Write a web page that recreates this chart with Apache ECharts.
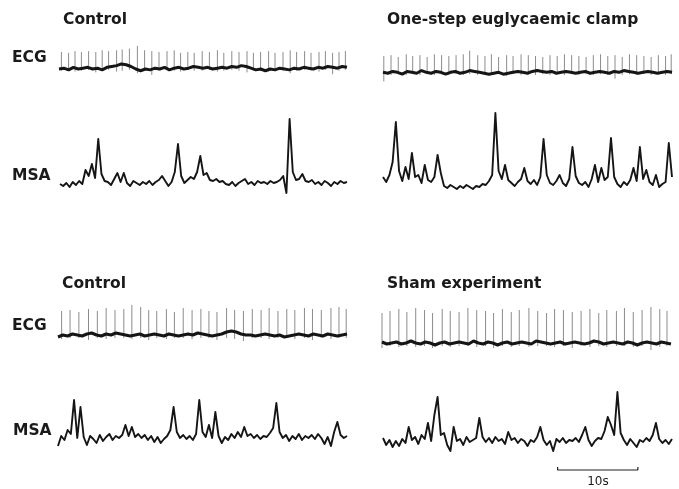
<!DOCTYPE html>
<html><head><meta charset="utf-8">
<script src="https://cdn.jsdelivr.net/npm/echarts@6/dist/echarts.min.js"></script>
<style>html,body{margin:0;padding:0;background:#fff}#c{width:679px;height:489px}</style>
</head><body><div id="c"></div>
<script>
// ---------- text ----------
const panelTitles = ['Control', 'One-step euglycaemic clamp', 'Control', 'Sham experiment'];
const traceLabels = ['ECG', 'MSA'];
const scaleBarLabel = '10s';
const scaleBarStart = 21.75;   // s, within the bottom-right record
const scaleBarSeconds = 10;
const recordSeconds = 36;

// ---------- MSA (sampled every 0.4 s, amplitude above baseline) ----------
const msaStep = 0.4;
const msaControl1 = [0,-2,1,-3,2,-1,3,0,14,8,20,6,45,10,3,2,-1,5,11,2,11,1,-2,3,1,-1,2,0,3,-1,2,4,8,3,-2,2,12,40,8,1,4,7,5,12,28,9,11,4,3,5,2,3,0,-1,2,-2,1,3,5,0,2,-1,3,1,2,0,3,1,2,4,8,-9,65,12,4,5,10,3,2,4,0,2,-1,3,1,-2,2,0,3,1,2];
const msaClamp = [8,3,10,23,63,14,4,18,6,32,8,10,2,20,5,3,8,30,12,-1,-3,0,-2,-4,-1,-3,0,-2,-4,-1,-2,1,0,4,10,72,14,6,20,5,2,-1,3,6,17,4,1,5,0,8,46,10,2,0,4,10,2,-1,6,38,9,2,0,3,-2,6,20,3,17,5,8,47,8,1,-2,3,0,5,17,4,38,6,15,3,0,10,-2,1,3,42,8];
const msaControl2 = [-6,4,0,10,6,40,2,33,3,-5,4,1,-3,5,-1,3,6,0,4,2,5,15,4,13,3,6,2,5,0,4,-2,3,-3,1,4,10,33,8,2,5,1,4,0,6,40,8,3,15,2,28,4,-3,3,0,6,2,8,3,13,4,6,2,5,1,4,3,7,12,37,8,2,5,-1,4,1,6,0,4,2,5,1,6,2,-4,3,-6,8,18,5,2,4];
const msaSham = [5,-2,3,-4,2,-3,4,0,16,3,6,-1,8,4,20,2,28,46,8,10,-2,-8,16,2,4,-2,6,1,3,5,25,6,1,5,0,6,2,4,-1,11,3,5,0,4,2,-3,3,1,6,16,3,-2,2,-8,4,1,5,0,3,2,5,1,8,16,3,-3,2,5,4,12,26,18,8,51,10,3,-2,4,0,-4,3,1,5,2,8,20,4,0,3,-1,4];

// ---------- ECG: beat times (s), R height, S depth, baseline every 0.6 s ----------
const ecgBaseStep = 0.6;
const ecgBeatsControl1 = [0.3,1.2,2.0,2.8,3.7,4.6,5.4,6.2,7.2,7.9,8.8,9.8,10.7,11.6,12.5,13.5,14.4,15.2,16.1,16.9,17.9,18.8,19.8,20.6,21.6,22.5,23.5,24.3,25.2,26.2,27.0,28.0,28.9,29.7,30.7,31.5,32.5,33.3,34.2,35.0,35.8];
const ecgRControl1 = [19,18,20,19,20,19,21,20,21,22,23,26,21,20,19,20,21,18,19,18,20,19,21,18,20,19,20,18,19,20,18,19,21,19,20,18,19,20,18,19,20];
const ecgSControl1 = [3,2,4,3,2,5,3,2,4,3,2,6,3,8,3,2,3,4,2,3,3,2,4,3,2,3,5,2,3,4,2,3,6,3,2,3,4,2,7,3,2];
const ecgBaseControl1 = [-1,0,-2,1,-1,0,1,-1,0,-2,1,2,3,5,4,2,-1,-3,-1,-2,0,-1,1,-2,0,1,-1,0,2,1,0,1,-1,0,1,0,2,1,3,2,0,-2,-1,-3,-1,-2,0,-1,-2,0,-1,1,0,-1,1,0,2,1,0,2,1];

const ecgBeatsClamp = [0.1,1.0,1.9,2.9,3.7,4.6,5.5,6.4,7.3,8.2,9.1,10.0,10.8,11.8,12.7,13.5,14.4,15.4,16.2,17.2,18.1,19.0,19.9,20.8,21.7,22.6,23.5,24.4,25.3,26.2,27.1,28.0,28.9,29.8,30.7,31.6,32.5,33.4,34.3,35.2,35.9];
const ecgRClamp = [18,19,17,20,18,19,17,20,19,18,19,20,24,19,18,20,17,19,18,20,19,18,17,19,18,20,19,18,17,19,20,18,19,17,20,19,18,17,19,18,20];
const ecgSClamp = [10,3,2,3,2,3,2,3,2,3,2,3,2,3,2,3,2,4,2,3,2,3,2,3,2,3,2,3,2,3,2,3,7,3,2,3,2,3,2,3,2];
const ecgBaseClamp = [0,-1,1,0,-2,1,0,-1,2,0,-1,1,0,-2,0,1,-1,0,2,1,0,-1,-2,-1,0,-2,-1,0,1,0,-1,1,2,1,0,1,-1,0,1,0,-1,0,1,-1,0,1,0,-1,1,0,2,1,0,-1,0,1,0,-1,0,1,0];

const ecgBeatsControl2 = [0.45,1.5,2.6,3.8,4.9,6.0,7.1,8.2,9.2,10.3,11.3,12.3,13.5,14.5,15.6,16.7,17.8,18.8,19.8,21.0,22.0,23.1,24.2,25.3,26.3,27.4,28.5,29.5,30.7,31.7,32.8,34.0,35.0,35.9];
const ecgRControl2 = [24,25,23,26,24,27,25,26,30,28,25,24,26,23,27,25,26,24,23,27,25,24,26,25,27,24,26,25,27,26,25,27,28,26];
const ecgSControl2 = [4,3,3,5,3,4,3,3,4,3,5,3,4,3,3,4,3,3,5,3,4,6,3,3,4,3,3,4,3,5,3,4,3,3];
const ecgBaseControl2 = [-2,0,-1,1,0,-1,1,2,0,-1,1,0,2,1,0,-1,0,1,-1,0,1,0,-1,1,0,-1,0,1,0,2,1,0,-1,0,1,3,4,3,1,0,0,-1,0,1,0,-1,0,-2,-1,0,1,0,-1,1,0,-1,1,0,-1,0,1];

const ecgBeatsSham = [0.0,1.0,2.1,3.1,4.2,5.3,6.3,7.5,8.5,9.6,10.7,11.8,12.9,13.9,15.0,16.1,17.1,18.3,19.4,20.5,21.5,22.6,23.7,24.8,25.9,27.0,28.0,29.2,30.2,31.3,32.4,33.5,34.6,35.5];
const ecgRSham = [30,32,34,31,35,33,30,34,32,31,35,33,32,30,34,31,33,35,32,30,34,33,31,32,34,30,33,32,35,31,33,36,34,32];
const ecgSSham = [5,3,4,3,4,3,5,3,4,3,3,4,3,5,3,4,3,4,3,3,4,3,5,3,4,3,4,3,3,4,3,7,4,3];
const ecgBaseSham = [1,-1,0,1,-1,0,2,0,-1,1,0,-2,0,1,-1,0,1,0,-1,2,0,-1,1,0,-2,0,1,-1,0,1,0,-1,2,1,0,-1,0,1,-1,0,1,0,-1,0,2,1,-1,0,1,0,-1,1,0,-2,0,1,0,-1,1,0,-1];

// ---------- layout (pixels) ----------
const layout = [
  {left: 59,  width: 288, base: 63},   // 0 ECG control (top)
  {left: 60,  width: 287, base: 184},  // 1 MSA control (top)
  {left: 383, width: 289, base: 69},   // 2 ECG clamp
  {left: 383, width: 289, base: 185},  // 3 MSA clamp
  {left: 58,  width: 289, base: 335},  // 4 ECG control (bottom)
  {left: 58,  width: 289, base: 440},  // 5 MSA control (bottom)
  {left: 382, width: 289, base: 343},  // 6 ECG sham
  {left: 383, width: 289, base: 443}   // 7 MSA sham
];
const Y_MAX = 80, Y_MIN = -35;

const ecgSets = [
  {grid: 0, beats: ecgBeatsControl1, r: ecgRControl1, s: ecgSControl1, base: ecgBaseControl1},
  {grid: 2, beats: ecgBeatsClamp, r: ecgRClamp, s: ecgSClamp, base: ecgBaseClamp},
  {grid: 4, beats: ecgBeatsControl2, r: ecgRControl2, s: ecgSControl2, base: ecgBaseControl2},
  {grid: 6, beats: ecgBeatsSham, r: ecgRSham, s: ecgSSham, base: ecgBaseSham}
];
const msaSets = [
  {grid: 1, data: msaControl1},
  {grid: 3, data: msaClamp},
  {grid: 5, data: msaControl2},
  {grid: 7, data: msaSham}
];

const grids = layout.map(g => ({left: g.left, width: g.width, top: g.base - Y_MAX, height: Y_MAX - Y_MIN}));
const xAxes = layout.map((g, i) => ({type: 'value', gridIndex: i, min: 0, max: recordSeconds, show: false}));
const yAxes = layout.map((g, i) => ({type: 'value', gridIndex: i, min: Y_MIN, max: Y_MAX, show: false}));

const series = [];
ecgSets.forEach(e => {
  const spikes = [];
  e.beats.forEach((t, i) => { spikes.push([t, -e.s[i]], [t, e.r[i]], [t, '-']); });
  series.push({type: 'line', xAxisIndex: e.grid, yAxisIndex: e.grid, data: spikes, showSymbol: false,
    lineStyle: {color: '#8c8c8c', width: 1}, silent: true, z: 2});
  series.push({type: 'line', xAxisIndex: e.grid, yAxisIndex: e.grid,
    data: e.base.map((v, i) => [+(i * ecgBaseStep).toFixed(2), v]), showSymbol: false,
    lineStyle: {color: '#151515', width: 3}, silent: true, z: 3});
});
msaSets.forEach(m => {
  series.push({type: 'line', xAxisIndex: m.grid, yAxisIndex: m.grid,
    data: m.data.map((v, i) => [+(i * msaStep).toFixed(2), v]), showSymbol: false,
    lineStyle: {color: '#151515', width: 1.9, join: 'round'}, silent: true, z: 3});
});
// scale bar (10 s) under the sham MSA record
series.push({type: 'line', xAxisIndex: 7, yAxisIndex: 7, showSymbol: false, silent: true,
  data: [[scaleBarStart, -24], [scaleBarStart, -27], [scaleBarStart + scaleBarSeconds, -27], [scaleBarStart + scaleBarSeconds, -24]],
  lineStyle: {color: '#222', width: 1.2}});

const font = {fontFamily: '"DejaVu Sans", sans-serif', fontWeight: 'bold', fontSize: 15.5, fill: '#1a1a1a', verticalAlign: 'middle'};
const txt = (text, x, y, extra) => ({type: 'text', x: x, y: y, silent: true, style: Object.assign({text: text}, font, extra || {})});
const graphic = [
  txt(panelTitles[0], 63, 20),
  txt(panelTitles[1], 387, 20),
  txt(panelTitles[2], 62, 284),
  txt(panelTitles[3], 387, 284),
  txt(traceLabels[0], 12, 58),
  txt(traceLabels[1], 12, 176),
  txt(traceLabels[0], 12, 326),
  txt(traceLabels[1], 13, 431),
  txt(scaleBarLabel, 598, 482, {fontWeight: 'normal', fontSize: 12, align: 'center'})
];

const chart = echarts.init(document.getElementById('c'), null, {renderer: 'canvas'});
chart.setOption({animation: false, backgroundColor: '#fff', grid: grids, xAxis: xAxes, yAxis: yAxes, series: series, graphic: graphic});
</script></body></html>
